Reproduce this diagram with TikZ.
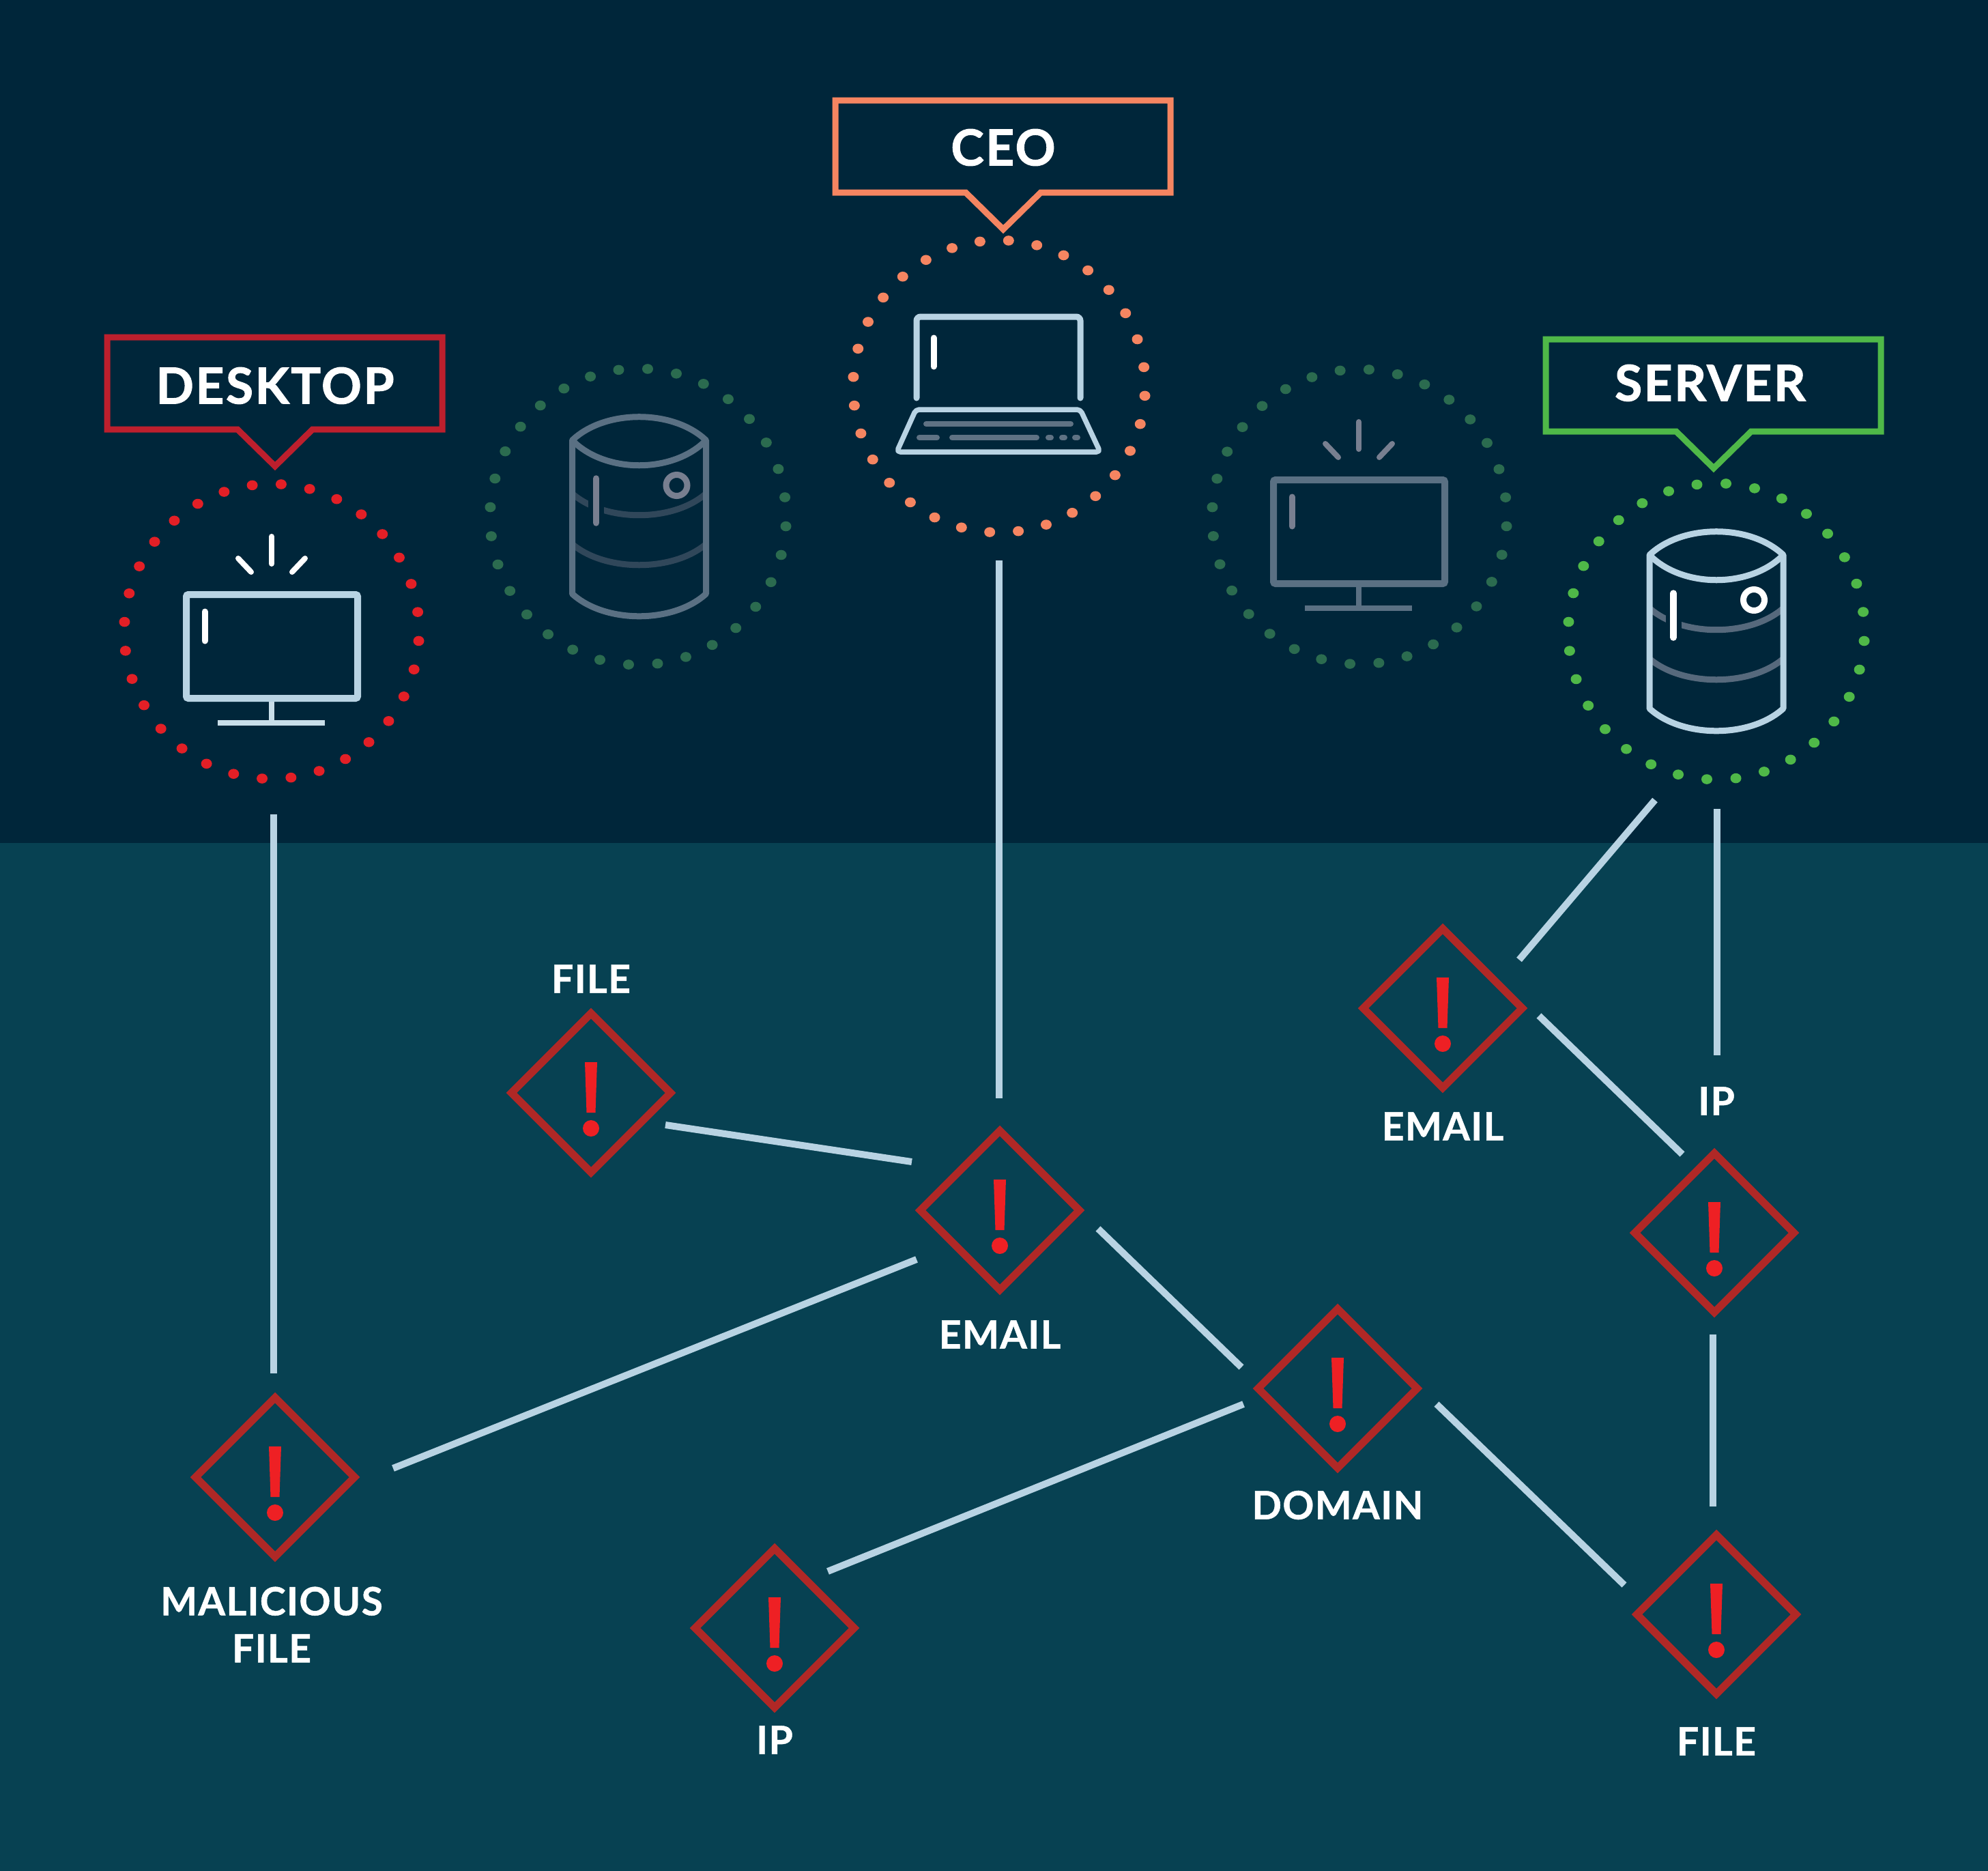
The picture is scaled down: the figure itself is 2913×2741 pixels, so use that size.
\documentclass[tikz,border=0pt]{standalone}
\usepackage{fontspec}
\setmainfont{Lato}[BoldFeatures={FakeBold=0.9,LetterSpace=2.5}]
\newfontfamily\callfont{Lato}[BoldFeatures={FakeBold=1.4,LetterSpace=3.5}]
\usetikzlibrary{shapes.geometric,calc}
\definecolor{bgtop}{HTML}{00263A}
\definecolor{bglow}{HTML}{074152}
\definecolor{linec}{HTML}{B8D3E3}
\definecolor{basec}{HTML}{C9DEE9}
\definecolor{redbox}{HTML}{BD1F2D}
\definecolor{reddot}{HTML}{E31F26}
\definecolor{orangec}{HTML}{F58561}
\definecolor{greenc}{HTML}{4FB848}
\definecolor{dimring}{HTML}{2B6B4F}
\definecolor{dimicon}{HTML}{5A7083}
\definecolor{dimband}{HTML}{30475A}
\definecolor{dimbar}{HTML}{787F90}
\definecolor{bandc}{HTML}{56697C}
\definecolor{keyc}{HTML}{5F7283}
\definecolor{diamc}{HTML}{B02826}
\definecolor{bangc}{HTML}{EE2024}
\tikzset{
  link/.style={draw=linec,line width=10pt},
  alert/.style={shape=diamond,aspect=1,draw=diamc,line width=11pt,minimum width=233pt,minimum height=233pt,inner sep=0pt,outer sep=0pt},
  biglabel/.style={text=white,font=\fontsize{73}{80}\callfont\bfseries,inner sep=0pt,outer sep=0pt},
  smalllabel/.style={text=white,font=\fontsize{57}{69}\selectfont\bfseries,inner sep=0pt,outer sep=0pt,align=center},
}
% ring of 32 dots
\newcommand\dotring[5]{\coordinate (#1) at (#2,#3);
  \foreach \k in {0,...,31}{\pgfmathsetmacro\ang{86.3+11.25*\k}
    \fill[#5] ({#2+#4*cos(\ang)},{#3-#4*sin(\ang)}) ellipse (8pt and 7.3pt);}}
% callout: name, tip x, top y, colour, text x, text y, text
\newcommand\callout[7]{
  \draw[#4,line width=9pt,miter limit=10] ({#2-246},#3) -- ({#2+245},#3) -- ({#2+245},{#3+135}) -- ({#2+55},{#3+135}) -- (#2,{#3+189}) -- ({#2-55},{#3+135}) -- ({#2-246},{#3+135}) -- cycle;
  \node[biglabel] (#1) at (#5,#6) {#7};}
% monitor icon: centre, frame colour, base colour, accent colour
\newcommand\monitoricon[5]{\begin{scope}[shift={(#1,#2)}]
  \draw[#3,line width=10pt,rounded corners=3pt] (-125,-54) rectangle (126,98);
  \draw[#4,line width=8pt] (0,103) -- (0,134);
  \draw[#4,line width=8pt] (-79,134) -- (78,134);
  \draw[#5,line width=9pt,line cap=round] (-98,-29) -- (-98,14);
  \draw[#5,line width=8pt,line cap=round] (0,-139) -- (0,-99);
  \draw[#5,line width=8pt,line cap=round] (-49,-107) -- (-30,-87);
  \draw[#5,line width=8pt,line cap=round] (49,-107) -- (30,-87);
\end{scope}}
% drum icon: centre, frame colour, band colour, accent colour
\newcommand\drumicon[5]{\begin{scope}[shift={(#1,#2)}]
  \draw[#4,line width=9pt] (-98,-34) .. controls (-50,8.3) and (50,8.3) .. (98,-34);
  \draw[#4,line width=9pt] (-98,40) .. controls (-50,81) and (50,81) .. (98,40);
  \draw[bgtop,line width=23pt] (-63,-30) -- (-63,5);
  \draw[#3,line width=9pt,line join=round] (-98,-112) .. controls (-50,-157.7) and (50,-157.7) .. (98,-112) -- (98,113) .. controls (50,156.7) and (-50,156.7) .. (-98,113) -- cycle;
  \draw[#3,line width=9pt] (-98,-112) .. controls (-50,-63) and (50,-63) .. (98,-112);
  \draw[#5,line width=9.5pt,line cap=round] (-63,-56) -- (-63,9);
  \draw[#5,line width=9pt] (55,-46) circle (15.5pt);
\end{scope}}
% exclamation mark inside an alert diamond
\newcommand\bang[1]{\fill[bangc] ($(#1)+(-9,-45)$) -- ($(#1)+(9,-45)$) -- ($(#1)+(6.5,29)$) -- ($(#1)+(-6.5,29)$) -- cycle;
  \fill[bangc] ($(#1)+(0,52)$) circle (12pt);}
\begin{document}
\begin{tikzpicture}[x=1pt,y=-1pt]
\useasboundingbox (0,0) rectangle (2913,2741);
\fill[bgtop] (0,0) rectangle (2913,1235);
\fill[bglow] (0,1235) rectangle (2913,2741);

% rings
\dotring{deskring}{398}{925}{216}{reddot}
\dotring{ceoring}{1464}{566}{214}{orangec}
\dotring{servring}{2515}{925}{217}{greenc}
\dotring{dimdrumring}{935}{757}{217}{dimring}
\dotring{dimmonring}{1992}{757}{216}{dimring}

% icons
\monitoricon{398}{925}{linec}{basec}{white}
\monitoricon{1991}{757}{dimicon}{dimicon}{dimbar}
\drumicon{2515}{925}{linec}{bandc}{white}
\drumicon{936.5}{757}{dimicon}{dimband}{dimbar}
% laptop
\draw[linec,line width=9pt,line cap=round,rounded corners=6pt] (1343,583) -- (1343,464) -- (1583,464) -- (1583,583);
\draw[linec,line width=7.5pt,line join=round,rounded corners=5pt] (1342,600) -- (1583,600) -- (1612,662) -- (1314,662) -- cycle;
\draw[white,line width=9pt,line cap=round] (1368,495) -- (1368,537);
\begin{scope}[keyc,line width=8pt,line cap=round]
\draw (1357,621) -- (1569,621);
\draw (1347,641) -- (1373,641);
\draw (1395,641) -- (1519,641);
\draw (1536,641) -- (1540,641);
\draw (1556,641) -- (1560,641);
\draw (1575,641) -- (1579,641);
\end{scope}

% callouts
\callout{desktoplabel}{403}{494}{redbox}{403}{565}{DESKTOP}
\callout{ceolabel}{1470}{147}{orangec}{1470}{216}{CEO}
\callout{serverlabel}{2511}{497}{greenc}{2506}{561}{SERVER}

% alerts
\node[alert] (afile) at (866,1601) {};
\node[alert] (aemail) at (1465,1773) {};
\node[alert] (aemailb) at (2114,1477) {};
\node[alert] (aip) at (2512,1806) {};
\node[alert] (adomain) at (1960,2034) {};
\node[alert] (amal) at (403,2164) {};
\node[alert] (aipb) at (1135,2385) {};
\node[alert] (afileb) at (2515,2365) {};
\bang{afile}\bang{aemail}\bang{aemailb}\bang{aip}\bang{adomain}\bang{amal}\bang{aipb}\bang{afileb}

% labels
\node[smalllabel] (lfile) at (866,1434) {FILE};
\node[smalllabel] (lemail) at (1465,1955) {EMAIL};
\node[smalllabel] (lemailb) at (2114,1650) {EMAIL};
\node[smalllabel] (lip) at (2515,1613) {IP};
\node[smalllabel] (ldomain) at (1960,2205) {DOMAIN};
\node[smalllabel] (lmal) at (398,2380) {MALICIOUS\\FILE};
\node[smalllabel] (lipb) at (1135,2549) {IP};
\node[smalllabel] (lfileb) at (2515,2551) {FILE};

% connector ends
\coordinate (k1a) at (401,1193); \coordinate (k1b) at (401,2012);
\coordinate (k2a) at (1464,821); \coordinate (k2b) at (1464,1609);
\coordinate (k3a) at (2425,1172); \coordinate (k3b) at (2226,1406);
\coordinate (k4a) at (2516,1185); \coordinate (k4b) at (2516,1546);
\coordinate (k5a) at (975,1648); \coordinate (k5b) at (1336,1702);
\coordinate (k6a) at (1343,1845); \coordinate (k6b) at (576,2151);
\coordinate (k7a) at (1609,1800); \coordinate (k7b) at (1819,2003);
\coordinate (k8a) at (2255,1488); \coordinate (k8b) at (2465,1691);
\coordinate (k9a) at (2510,1955); \coordinate (k9b) at (2510,2207);
\coordinate (k10a) at (1822,2057); \coordinate (k10b) at (1213,2302);
\coordinate (k11a) at (2105,2057); \coordinate (k11b) at (2380,2322);
\foreach \n in {1,...,11}{\draw[link] (k\n a) -- (k\n b);}
\end{tikzpicture}
\end{document}
